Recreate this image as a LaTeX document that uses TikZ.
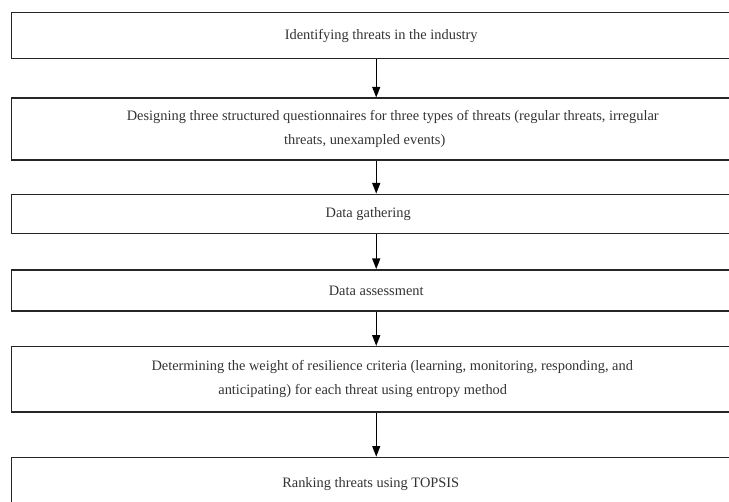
\documentclass[tikz,border=0pt]{standalone}
\usepackage{fontspec}
\setmainfont{Liberation Serif}
\usetikzlibrary{arrows.meta, positioning}

\begin{document}
\begin{tikzpicture}[
    box/.style={rectangle, draw=black!85, line width=1.1pt, minimum width=546.75pt,
                font=\fontsize{10.8}{18}\selectfont, text=black!80, align=center, inner sep=0pt},
    flow/.style={-{Triangle[width=6pt, length=8pt]}, line width=0.9pt},
]
\useasboundingbox (0,0) rectangle (546.75pt,-375.75pt);
\clip (0,0) rectangle (546.75pt,-375.75pt);

% Steps
\node[box, minimum height=34.5pt, anchor=north west] (threats) at (8.25pt,-9pt)
    {\hspace*{7.5pt}Identifying threats in the industry};
\node[box, minimum height=46.5pt, below=28.5pt of threats] (design)
    {\hspace*{24.75pt}Designing three structured questionnaires for three types of threats (regular threats, irregular\\
     \hspace*{-17.25pt}threats, unexampled events)};
\node[box, minimum height=29.5pt, below=24.5pt of design] (gather)
    {\hspace*{-12pt}Data gathering};
\node[box, minimum height=31pt, below=26pt of gather] (assess)
    {Data assessment};
\node[box, minimum height=49pt, below=25.5pt of assess] (weight)
    {\hspace*{24pt}Determining the weight of resilience criteria (learning, monitoring, responding, and\\
     \hspace*{-20.25pt}anticipating) for each threat using entropy method};
\node[box, minimum height=40pt, below=33pt of weight] (rank)
    {\hspace*{-8.25pt}Ranking threats using TOPSIS};

% Arrows
\draw[flow] (threats.south) -- (design.north);
\draw[flow] (design.south) -- (gather.north);
\draw[flow] (gather.south) -- (assess.north);
\draw[flow] (assess.south) -- (weight.north);
\draw[flow] (weight.south) -- (rank.north);

\end{tikzpicture}
\end{document}
